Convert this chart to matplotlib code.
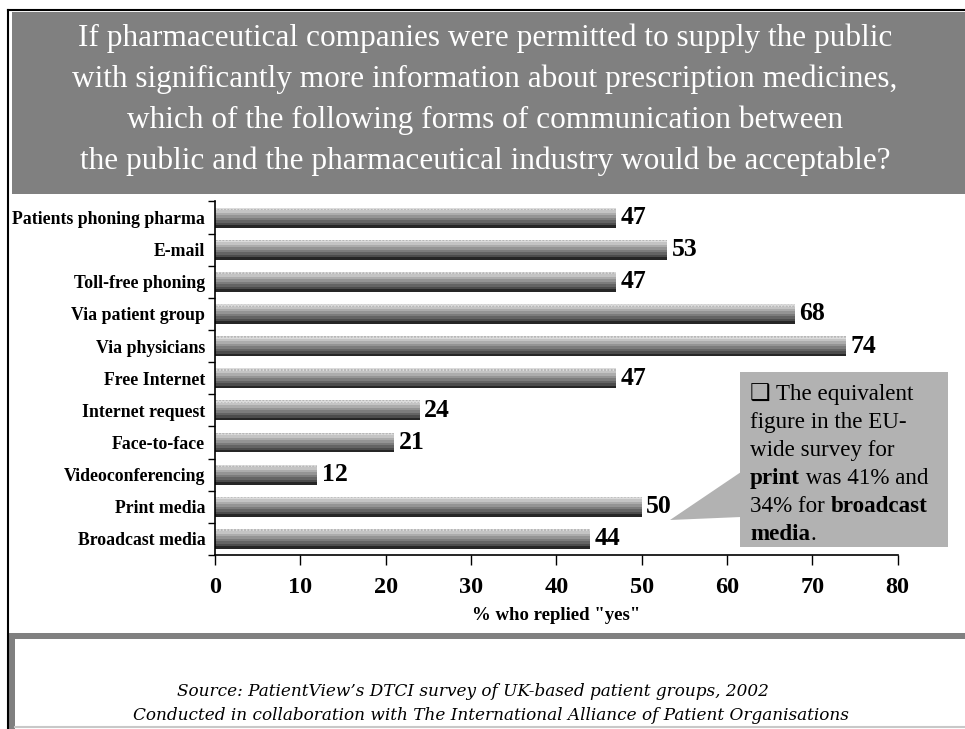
import matplotlib
matplotlib.use("Agg")
import matplotlib.pyplot as plt
from matplotlib.patches import Rectangle, Polygon

W, H = 965, 729

categories = ["Patients phoning pharma", "E-mail", "Toll-free phoning",
              "Via patient group", "Via physicians", "Free Internet",
              "Internet request", "Face-to-face", "Videoconferencing",
              "Print media", "Broadcast media"]
values = [47, 53, 47, 68, 74, 47, 24, 21, 12, 50, 44]
xticks = [0, 10, 20, 30, 40, 50, 60, 70, 80]

title_lines = [
    "If pharmaceutical companies were permitted to supply the public",
    "with significantly more information about prescription medicines,",
    "which of the following forms of communication between",
    "the public and the pharmaceutical industry would be acceptable?",
]
source_lines = [
    "Source: PatientView\u2019s DTCI survey of UK-based patient groups, 2002",
    "Conducted in collaboration with The International Alliance of Patient Organisations",
]
# (text, bold) pieces per line of the side note
note_lines = [
    [("\u2751 The equivalent", False)],
    [("figure in the EU-", False)],
    [("wide survey for", False)],
    [("print", True), (" was 41% and", False)],
    [("34% for ", False), ("broadcast", True)],
    [("media", True), (".", False)],
]

SERIF = "Liberation Serif"


def fx(x):
    return x / W


def fy(y):
    return 1 - y / H


fig = plt.figure(figsize=(W / 100, H / 100), dpi=100)

# slide frame and banners
fig.add_artist(plt.Line2D([fx(8), 1], [fy(10), fy(10)], color="black", lw=1.5))
fig.add_artist(plt.Line2D([fx(8), fx(8)], [fy(10), 0], color="black", lw=1.5))
fig.add_artist(Rectangle((fx(12), fy(194)), 1 - fx(12), (194 - 12) / H,
                         transform=fig.transFigure, color="#808080", lw=0))
fig.add_artist(Rectangle((fx(9), fy(639)), 1 - fx(9), 6 / H,
                         transform=fig.transFigure, color="#808080", lw=0))
fig.add_artist(Rectangle((fx(9), 0), 6 / W, fy(633),
                         transform=fig.transFigure, color="#808080", lw=0))
fig.add_artist(plt.Line2D([fx(15), 1], [fy(727), fy(727)], color="#c8c8c8", lw=1.5))

for i, line in enumerate(title_lines):
    fig.text(fx(485), fy(38 + 41 * i), line, ha="center", va="center",
             color="white", family=SERIF, fontsize=22.5)

for line, cx, cy in zip(source_lines, [473, 491], [691, 715]):
    fig.text(fx(cx), fy(cy), line, ha="center", va="center",
             family="DejaVu Serif", style="italic", fontsize=12.2)

# bar chart
ax = fig.add_axes([fx(215), fy(555), (897.7 - 215) / W, (555 - 201.5) / H])
n = len(categories)
ypos = list(range(n))
bar_h = 0.62
shades = ["#dcdcdc", "#c4c4c4", "#acacac", "#949494",
          "#7c7c7c", "#646464", "#4c4c4c", "#262626"]
ns = len(shades)
for k, c in enumerate(shades):
    off = -bar_h / 2 + (k + 0.5) * bar_h / ns
    ax.barh([y + off for y in ypos], values, height=bar_h / ns,
            color=c, lw=0, hatch="....." if k == 0 else None,
            edgecolor="#b0b0b0" if k == 0 else None)

for y, v in zip(ypos, values):
    ax.annotate(str(v), (v, y), xytext=(3, 0), textcoords="offset points",
                ha="left", va="center", family=SERIF, weight="bold",
                fontsize=18.5)

ax.set_xlim(0, 80)
ax.set_ylim(n - 0.5, -0.5)
ax.set_xticks(xticks)
ax.set_xticklabels([str(t) for t in xticks], family=SERIF, weight="bold",
                   fontsize=17.5)
ax.tick_params(axis="x", direction="out", length=7, width=1, pad=9)
ax.set_yticks([y - 0.5 for y in ypos] + [n - 0.5])
ax.set_yticklabels([])
ax.set_yticks(ypos, minor=True)
ax.set_yticklabels(categories, minor=True, family=SERIF, weight="bold",
                   fontsize=12.8)
ax.tick_params(axis="y", which="major", direction="out", length=5, width=1)
ax.tick_params(axis="y", which="minor", length=0, pad=7)
for s in ["top", "right"]:
    ax.spines[s].set_visible(False)
for s in ["left", "bottom"]:
    ax.spines[s].set_linewidth(1.2)
ax.set_xlabel('% who replied "yes"', family=SERIF, weight="bold",
              fontsize=13.5, labelpad=6)

# side note with pointer
fig.add_artist(Rectangle((fx(740), fy(547)), (948 - 740) / W, (547 - 372) / H,
                         transform=fig.transFigure, color="#b2b2b2", lw=0))
fig.add_artist(Polygon([(fx(670), fy(520)), (fx(741), fy(472)), (fx(741), fy(517))],
                       closed=True, transform=fig.transFigure,
                       color="#b2b2b2", lw=0))

renderer = fig.canvas.get_renderer()
for i, pieces in enumerate(note_lines):
    base = fy(400 + 28 * i)
    x = 750
    for txt, bold in pieces:
        t = fig.text(fx(x), base, txt, family=[SERIF, "DejaVu Sans"],
                     fontsize=16.6, weight="bold" if bold else "normal",
                     ha="left", va="baseline")
        x = t.get_window_extent(renderer).x1

fig.savefig("out.png", dpi=100)
